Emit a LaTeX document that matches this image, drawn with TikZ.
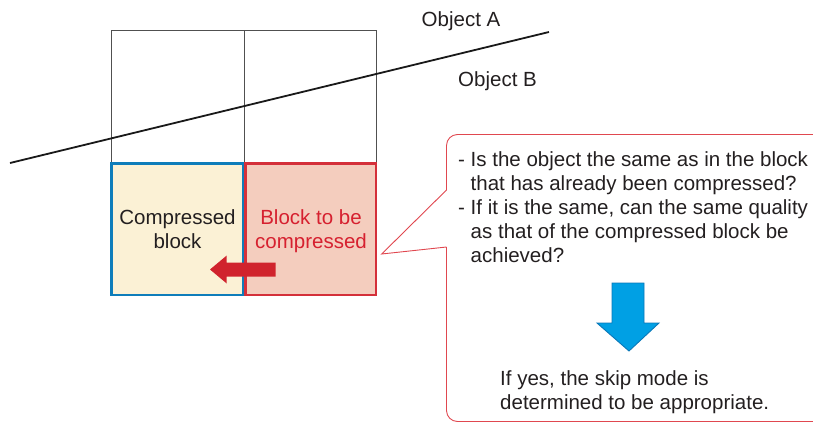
\documentclass[tikz,border=0pt]{standalone}
\usepackage{fontspec}
\setmainfont{Liberation Sans}
\begin{document}
\begin{tikzpicture}[x=1pt,y=-1pt,
  txt/.style={font=\fontsize{20.5}{24}\selectfont, text=inkgray, inner sep=0pt},
  gridline/.style={draw=gridgray, line width=0.9pt},
  blockbox/.style={line width=2.6pt, line join=miter},
  bigarrow/.style={line join=miter}
]
\definecolor{inkgray}{HTML}{231F20}
\definecolor{gridgray}{HTML}{505050}
\definecolor{cream}{HTML}{FBF1D5}
\definecolor{blockblue}{HTML}{0E7DBA}
\definecolor{pinkfill}{HTML}{F4CDBE}
\definecolor{blockred}{HTML}{D4303A}
\definecolor{redtext}{HTML}{D6202F}
\definecolor{arrowred}{HTML}{D0232D}
\definecolor{arrowblue}{HTML}{00A0E4}
\definecolor{arrowblueedge}{HTML}{0A78B8}
\definecolor{calloutred}{HTML}{E0474F}

\useasboundingbox (0,0) rectangle (813,423);

% upper row of the block grid
\draw[gridline] (111,30.5) rectangle (244,163);
\draw[gridline] (244,30.5) rectangle (376,163);

% boundary between the two objects
\draw[line width=1.8pt, black!90] (10,163) -- (549,32);
\node[txt, anchor=base west] (objA) at (421.5,26) {Object A};
\node[txt, anchor=base west] (objB) at (458,86) {Object B};

% lower row: compressed block and block to be compressed
\fill[cream] (111.5,163.5) rectangle (243.5,295);
\fill[pinkfill] (245.5,163.5) rectangle (376,295);
\draw[blockbox, draw=blockblue] (111.5,163.5) -- (243.5,163.5) -- (243.5,295) -- (111.5,295) -- cycle;
\draw[blockbox, draw=blockred] (245.5,163.5) -- (376,163.5) -- (376,295) -- (245.5,295) -- cycle;
\node[txt, align=center, anchor=base] (cb) at (177.5,248) {Compressed\\block};
\node[txt, align=center, anchor=base, text=redtext] (tb) at (311,248) {Block to be\\compressed};

% reference arrow pointing to the compressed block
\fill[bigarrow, arrowred] (275.6,262.5) -- (226.7,262.5) -- (226.7,255.5) -- (210,269.5)
  -- (226.7,283.5) -- (226.7,276.5) -- (275.6,276.5) -- cycle;

% callout balloon
\coordinate (ctop) at (446.5,190);
\coordinate (cbot) at (446.5,247);
\coordinate (ctip) at (381.7,254);
\draw[calloutred, line width=0.9pt, rounded corners=11pt]
  (ctop) -- (446.5,134.5) -- (830,134.5);
\draw[calloutred, line width=0.9pt, rounded corners=11pt]
  (cbot) -- (446.5,421.5) -- (830,421.5);
\draw[calloutred, line width=0.9pt, line join=miter] (ctop) -- (ctip) -- (cbot);

\node[txt, align=left, anchor=base west] (q) at (458,262)
  {- Is the object the same as in the block\\
   \hphantom{- }that has already been compressed?\\
   - If it is the same, can the same quality\\
   \hphantom{- }as that of the compressed block be\\
   \hphantom{- }achieved?};

% result arrow
\draw[bigarrow, fill=arrowblue, draw=arrowblueedge, line width=0.9pt]
  (612,283) -- (644,283) -- (644,323) -- (659,323) -- (629,351)
  -- (597,323) -- (612,323) -- cycle;

\node[txt, align=left, anchor=base west] (res) at (500,409)
  {If yes, the skip mode is\\determined to be appropriate.};
\end{tikzpicture}
\end{document}
